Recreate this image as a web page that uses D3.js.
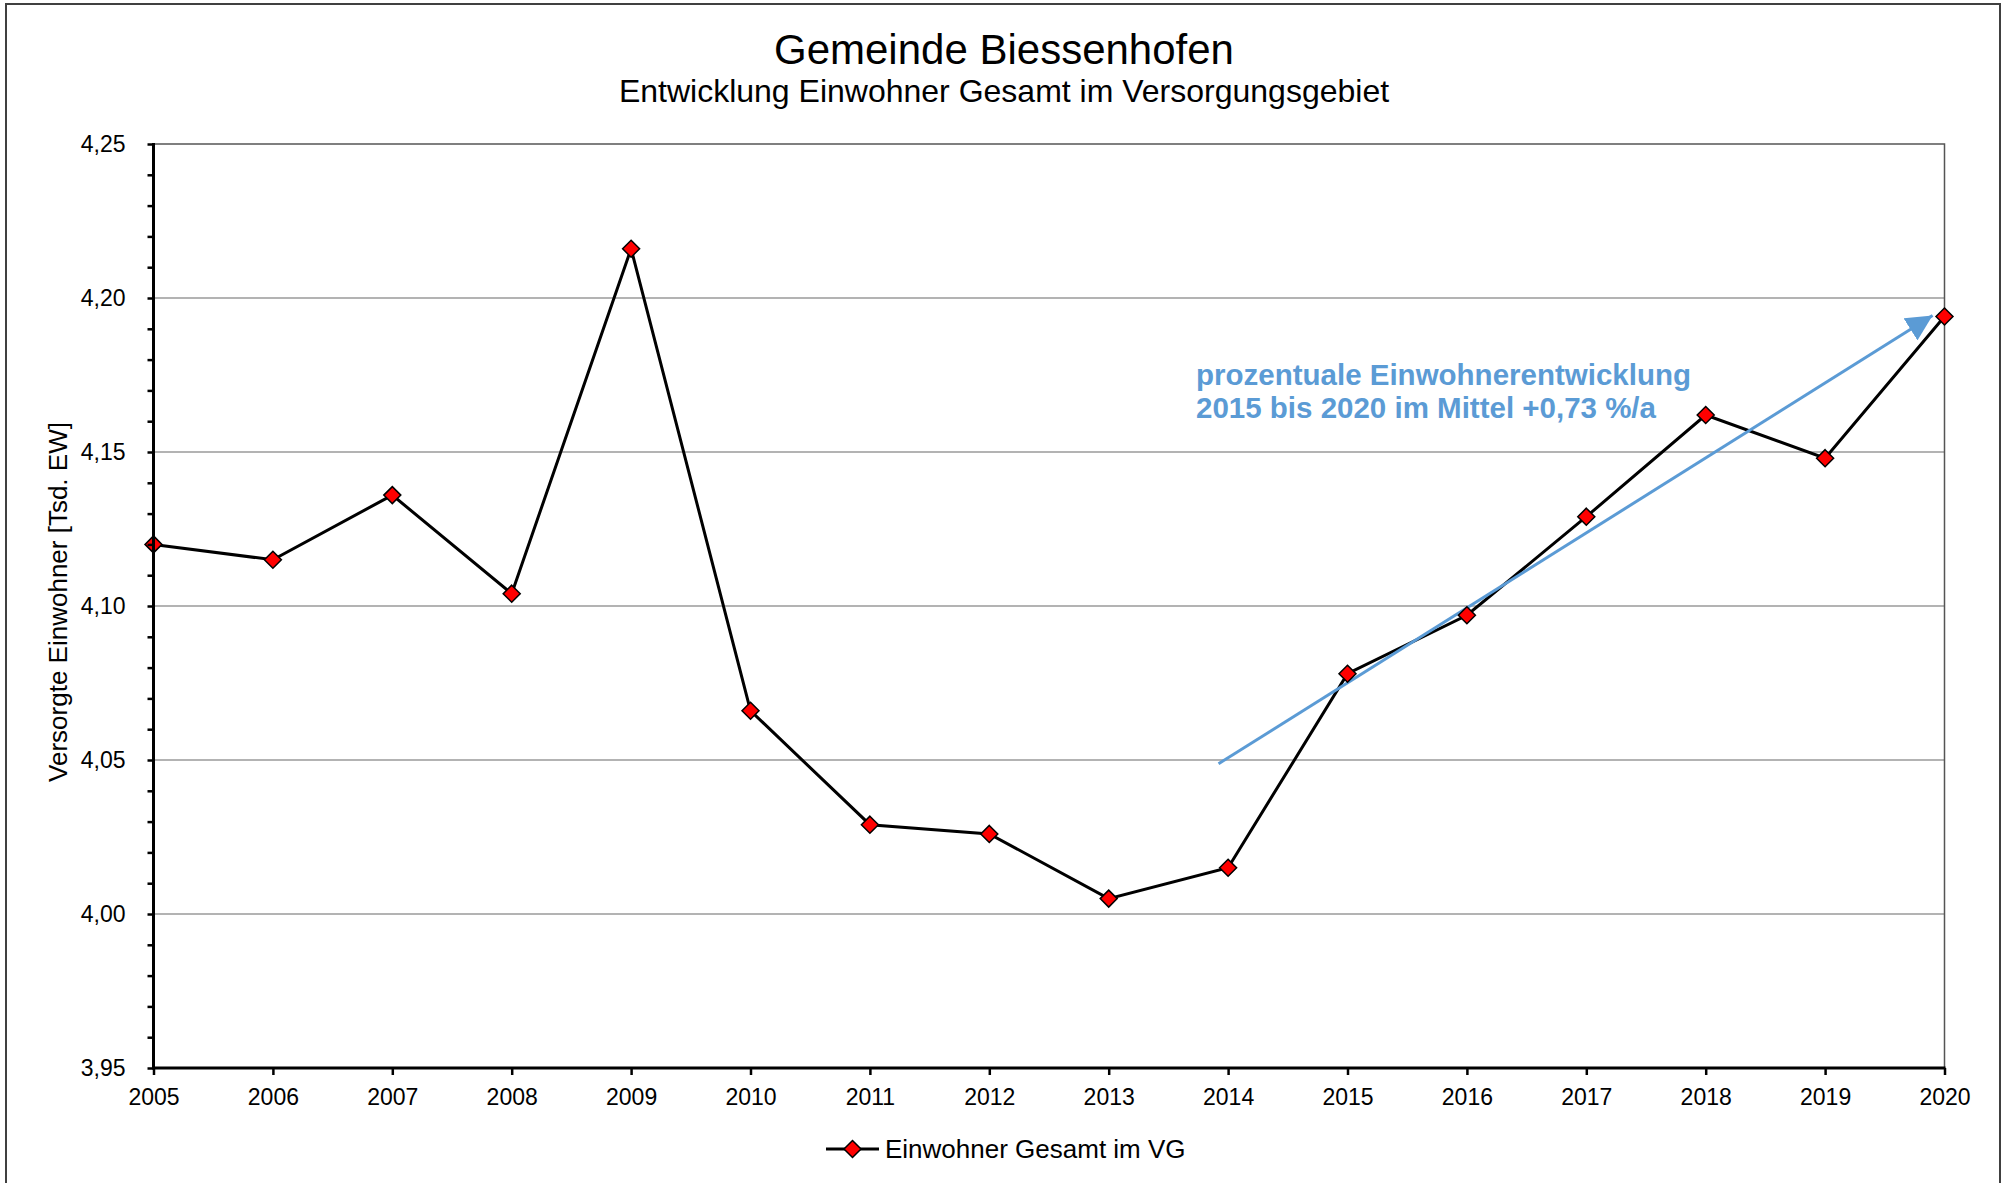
<!DOCTYPE html>
<html>
<head>
<meta charset="utf-8">
<script src="https://cdn.jsdelivr.net/npm/d3@7"></script>
<style>
    html, body { margin: 0; padding: 0; background: #fff; }
    svg text { font-family: 'Liberation Sans', Arial, sans-serif; }
</style>
</head>
<body>
<div id="chart"></div>
<script>
const years = [2005, 2006, 2007, 2008, 2009, 2010, 2011, 2012, 2013, 2014, 2015, 2016, 2017, 2018, 2019, 2020];
const einwohner = [4.120, 4.115, 4.136, 4.104, 4.216, 4.066, 4.029, 4.026, 4.005, 4.015, 4.078, 4.097, 4.129, 4.162, 4.148, 4.194];
const yTicks = [3.95, 4.00, 4.05, 4.10, 4.15, 4.20, 4.25];
const trendArrow = [[2013.92, 4.0488], [2019.9, 4.1943]];

let svg,
    plotG,
    x,
    y,
    width = 2006,
    height = 1183,
    plot = { left: 153.5, right: 1944.5, top: 144, bottom: 1068 },
    fmt = d => d.toFixed(2).replace('.', ','),
    diamond = (cx, cy, r) => 'M' + cx + ',' + (cy - r) + 'L' + (cx + r) + ',' + cy +
        'L' + cx + ',' + (cy + r) + 'L' + (cx - r) + ',' + cy + 'Z';

svg = d3.select('#chart')
    .append('svg')
        .attr('width', width)
        .attr('height', height);

// outer frame
svg.append('rect')
    .attr('x', 6)
    .attr('y', 4)
    .attr('width', 1994)
    .attr('height', 1300)
    .attr('fill', '#fff')
    .attr('stroke', '#404040')
    .attr('stroke-width', 2);

x = d3.scaleLinear()
    .domain([years[0], years[years.length - 1]])
    .range([plot.left, plot.right]);

y = d3.scaleLinear()
    .domain([3.95, 4.25])
    .range([plot.bottom, plot.top]);

// titles
svg.append('text')
    .attr('x', 1004)
    .attr('y', 64)
    .attr('text-anchor', 'middle')
    .style('font-size', '42px')
    .text('Gemeinde Biessenhofen');

svg.append('text')
    .attr('x', 1004)
    .attr('y', 102)
    .attr('text-anchor', 'middle')
    .style('font-size', '32px')
    .text('Entwicklung Einwohner Gesamt im Versorgungsgebiet');

plotG = svg.append('g');

// gridlines
plotG.append('g')
    .selectAll('line')
    .data(yTicks.filter(d => d > 3.96 && d < 4.24))
    .enter()
    .append('line')
        .attr('x1', plot.left)
        .attr('x2', plot.right)
        .attr('y1', d => y(d))
        .attr('y2', d => y(d))
        .attr('stroke', '#9a9a9a')
        .attr('stroke-width', 1.5);

// plot border top + right
plotG.append('path')
    .attr('d', 'M' + plot.left + ',' + plot.top + 'L' + plot.right + ',' + plot.top + 'L' + plot.right + ',' + plot.bottom)
    .attr('fill', 'none')
    .attr('stroke', '#555')
    .attr('stroke-width', 1.5);

// y axis with minor ticks
let yAxisG = svg.append('g')
    .attr('transform', 'translate(' + plot.left + ',0)')
    .call(d3.axisLeft(y)
        .tickValues(d3.range(0, 31).map(i => 3.95 + i * 0.01))
        .tickSize(6)
        .tickFormat(''));

yAxisG.select('.domain').remove();
yAxisG.selectAll('.tick line')
    .attr('stroke', '#000')
    .attr('stroke-width', 2.5);

yAxisG.append('line')
    .attr('x1', 0)
    .attr('x2', 0)
    .attr('y1', plot.top - 1)
    .attr('y2', plot.bottom + 1)
    .attr('stroke', '#000')
    .attr('stroke-width', 3);

yAxisG.selectAll('.ylab')
    .data(yTicks)
    .enter()
    .append('text')
        .attr('class', 'ylab')
        .attr('x', -28)
        .attr('y', d => y(d))
        .attr('dy', '0.35em')
        .attr('text-anchor', 'end')
        .attr('fill', '#000')
        .style('font-size', '23px')
        .text(fmt);

// x axis
let xAxisG = svg.append('g')
    .attr('transform', 'translate(0,' + plot.bottom + ')')
    .call(d3.axisBottom(x)
        .tickValues(years)
        .tickSize(7)
        .tickPadding(14)
        .tickFormat(d3.format('d')));

xAxisG.select('.domain').remove();
xAxisG.selectAll('.tick line')
    .attr('stroke', '#000')
    .attr('stroke-width', 2.5);
xAxisG.selectAll('.tick text')
    .attr('fill', '#000')
    .style('font-size', '23px')
    .style('font-family', "'Liberation Sans', Arial, sans-serif");

xAxisG.append('line')
    .attr('x1', plot.left - 1.5)
    .attr('x2', plot.right + 1)
    .attr('y1', 0)
    .attr('y2', 0)
    .attr('stroke', '#000')
    .attr('stroke-width', 3);

// y axis title
svg.append('text')
    .attr('transform', 'translate(67,602) rotate(-90)')
    .attr('text-anchor', 'middle')
    .style('font-size', '26px')
    .text('Versorgte Einwohner [Tsd. EW]');

// series line
let series = years.map((d, i) => [d, einwohner[i]]);

plotG.append('path')
    .datum(series)
    .attr('d', d3.line().x(d => x(d[0])).y(d => y(d[1])))
    .attr('fill', 'none')
    .attr('stroke', '#000')
    .attr('stroke-width', 3)
    .attr('stroke-linejoin', 'miter');

// trend arrow
svg.append('defs')
    .append('marker')
        .attr('id', 'arrowhead')
        .attr('viewBox', '0 0 10 10')
        .attr('refX', 10)
        .attr('refY', 5)
        .attr('markerUnits', 'userSpaceOnUse')
        .attr('markerWidth', 26)
        .attr('markerHeight', 26)
        .attr('orient', 'auto')
    .append('path')
        .attr('d', 'M0,0L10,5L0,10Z')
        .attr('fill', '#5b9bd5');

plotG.append('line')
    .attr('x1', x(trendArrow[0][0]))
    .attr('y1', y(trendArrow[0][1]))
    .attr('x2', x(trendArrow[1][0]))
    .attr('y2', y(trendArrow[1][1]))
    .attr('stroke', '#5b9bd5')
    .attr('stroke-width', 3)
    .attr('marker-end', 'url(#arrowhead)');

// markers
plotG.append('g')
    .selectAll('path')
    .data(series)
    .enter()
    .append('path')
        .attr('d', d => diamond(x(d[0]), y(d[1]), 8.5))
        .attr('fill', '#ff0000')
        .attr('stroke', '#000')
        .attr('stroke-width', 1.5);

// annotation
let note = svg.append('text')
    .attr('fill', '#5b9bd5')
    .style('font-size', '29.5px')
    .style('font-weight', 'bold');

note.append('tspan')
    .attr('x', 1196)
    .attr('y', 385)
    .text('prozentuale Einwohnerentwicklung');

note.append('tspan')
    .attr('x', 1196)
    .attr('y', 418)
    .text('2015 bis 2020 im Mittel +0,73 %/a');

// legend
let legendG = svg.append('g')
    .attr('transform', 'translate(826,1149)');

legendG.append('line')
    .attr('x1', 0)
    .attr('x2', 53)
    .attr('stroke', '#000')
    .attr('stroke-width', 3);

legendG.append('path')
    .attr('d', diamond(26.5, 0, 8.5))
    .attr('fill', '#ff0000')
    .attr('stroke', '#000')
    .attr('stroke-width', 1.5);

legendG.append('text')
    .attr('x', 59)
    .attr('y', 0)
    .attr('dy', '0.35em')
    .style('font-size', '26px')
    .text('Einwohner Gesamt im VG');
</script>
</body>
</html>
